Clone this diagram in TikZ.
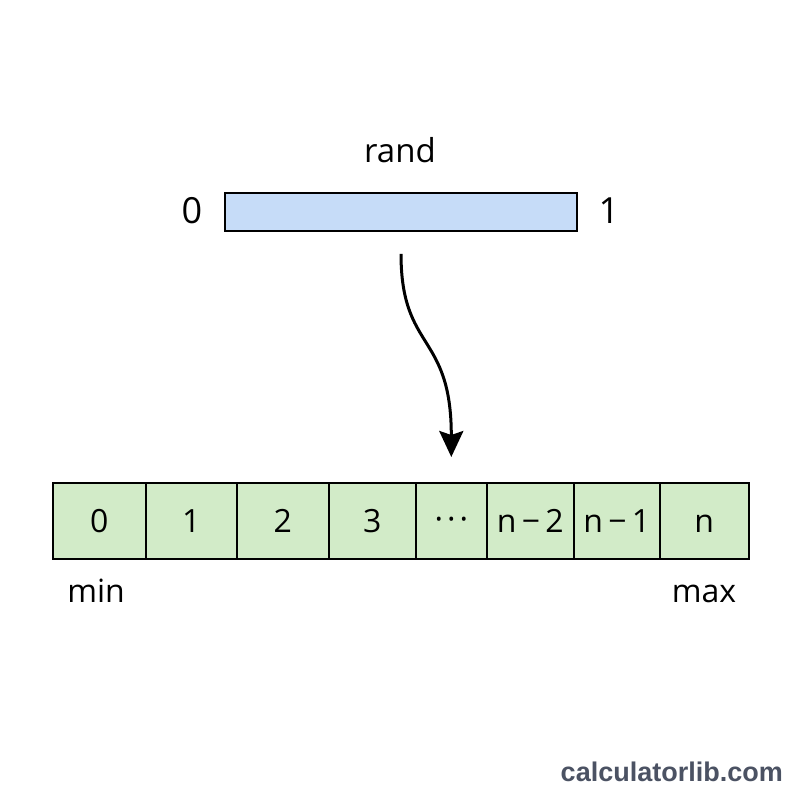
\documentclass[tikz,border=0pt]{standalone}
\usepackage{fontspec}
\setmainfont{Open Sans}
\newfontfamily\wmfont{Liberation Sans}
\usetikzlibrary{arrows.meta}
\definecolor{barblue}{HTML}{C6DCF8}
\definecolor{cellgreen}{HTML}{D2EBC8}
\definecolor{wmark}{HTML}{4B5263}
\tikzset{
  cellbox/.style={draw=black, line width=1.6pt, fill=cellgreen, minimum height=76pt, inner sep=0pt, text height=23pt, text depth=0pt, anchor=north west, font=\fontsize{32}{38}\selectfont},
  lbl/.style={inner sep=0pt, anchor=base, font=\fontsize{32}{38}\selectfont},
}
\begin{document}
\begin{tikzpicture}[x=1pt,y=-1pt]
\useasboundingbox (0,0) rectangle (800,800);
\fill[white] (0,0) rectangle (800,800);
% top bar
\node[draw=black, line width=1.6pt, fill=barblue, minimum width=352pt, minimum height=38pt, inner sep=0pt] (bar) at (401,212) {};
\node[lbl, font=\fontsize{33}{40}\selectfont] (rand) at (400,162) {rand};
\node[lbl, font=\fontsize{36}{42}\selectfont] (zero) at (192,223) {0};
\node[lbl, font=\fontsize{36}{42}\selectfont] (one) at (609,223) {1};
% cells
\node[cellbox, minimum width=93pt] (c0) at (52,482) {0};
\node[cellbox, minimum width=91pt] (c1) at (145,482) {1};
\node[cellbox, minimum width=92pt] (c2) at (236,482) {2};
\node[cellbox, minimum width=87pt] (c3) at (328,482) {3};
\node[cellbox, minimum width=71pt] (c4) at (415,482) {\raisebox{1.5pt}{·\hspace{4pt}·\hspace{4pt}·}};
\node[cellbox, minimum width=87pt] (c5) at (486,482) {n\,−\,2};
\node[cellbox, minimum width=86pt] (c6) at (573,482) {n\,−\,1};
\node[cellbox, minimum width=89pt] (c7) at (659,482) {n};
\node[lbl] (min) at (96,602) {min};
\node[lbl] (max) at (704,602) {max};
% arrow
\draw[line width=3pt, -{Stealth[length=26pt, width=24pt, inset=4pt]}, shorten <=22pt, shorten >=25pt]
  (bar.south) .. controls +(0,120) and +(0,-150) .. (c4.north);
% watermark
\node[inner sep=0pt, text=wmark, font=\fontsize{27}{32}\wmfont\bfseries, anchor=base east] (wm) at (783,781) {calculatorlib.com};
\end{tikzpicture}
\end{document}
